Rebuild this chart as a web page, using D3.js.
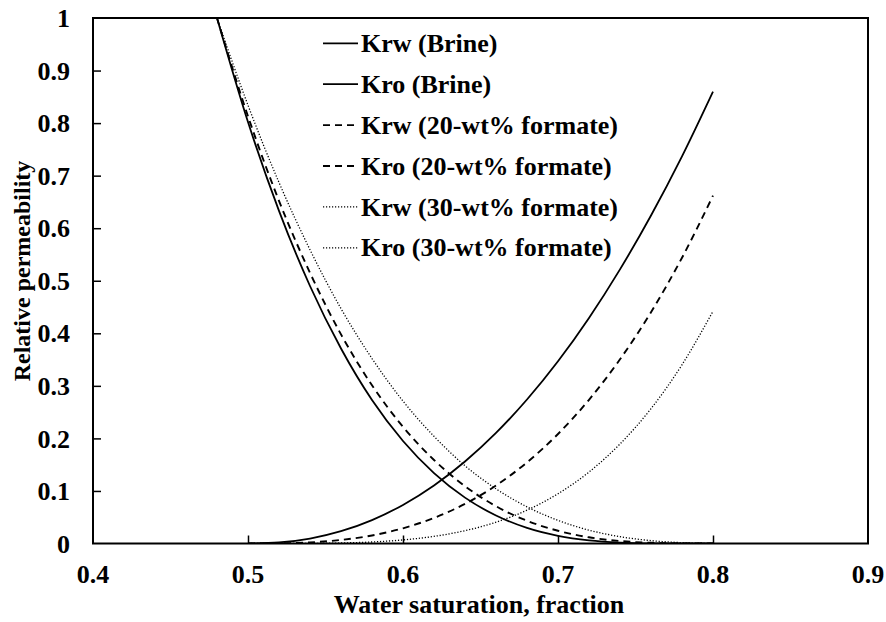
<!DOCTYPE html>
<html>
<head>
<meta charset="utf-8">
<script src="https://cdn.jsdelivr.net/npm/d3@7"></script>
<style>
  html, body { margin: 0; padding: 0; background: #fff; }
  svg text { font-family: "Liberation Serif", "Times New Roman", serif; font-weight: bold; fill: #000; }
</style>
</head>
<body>
<svg id="chart" width="886" height="622"></svg>
<script>
// ---- Data ----
const swKro = [0.48, 0.50, 0.52, 0.54, 0.56, 0.58, 0.60, 0.62, 0.64, 0.66, 0.68, 0.70, 0.72, 0.74, 0.76, 0.78, 0.80];
const kroBrine = [1.000, 0.802, 0.633, 0.490, 0.371, 0.273, 0.195, 0.134, 0.0873, 0.0533, 0.0297, 0.0146, 0.0058, 0.0016, 0.0002, 0, 0];
const kro20 = [1.000, 0.813, 0.652, 0.515, 0.398, 0.301, 0.222, 0.159, 0.109, 0.0710, 0.0433, 0.0242, 0.0118, 0.0047, 0.0013, 0.0001, 0];
const kro30 = [1.000, 0.834, 0.687, 0.559, 0.447, 0.352, 0.271, 0.204, 0.148, 0.104, 0.0698, 0.0440, 0.0254, 0.0130, 0.0055, 0.0016, 0.0002];

const swKrw = [0.50, 0.52, 0.54, 0.56, 0.58, 0.60, 0.62, 0.64, 0.66, 0.68, 0.70, 0.72, 0.74, 0.76, 0.78, 0.80];
const krwBrine = [0, 0.0020, 0.0094, 0.0234, 0.0446, 0.0734, 0.1104, 0.156, 0.2104, 0.274, 0.3468, 0.4293, 0.5217, 0.6242, 0.7368, 0.860];
const krw20 = [0, 0.0003, 0.0021, 0.0068, 0.0153, 0.0289, 0.0486, 0.0754, 0.1103, 0.1544, 0.2084, 0.2735, 0.3505, 0.4402, 0.5438, 0.662];
const krw30 = [0, 0.0000, 0.0002, 0.0010, 0.0029, 0.0068, 0.0136, 0.0244, 0.0405, 0.0634, 0.0947, 0.136, 0.1894, 0.2566, 0.3401, 0.442];

const xTicks = [0.4, 0.5, 0.6, 0.7, 0.8, 0.9];
const yTicks = [0, 0.1, 0.2, 0.3, 0.4, 0.5, 0.6, 0.7, 0.8, 0.9, 1];

const seriesNames = ["Krw (Brine)", "Kro (Brine)", "Krw (20-wt% formate)", "Kro (20-wt% formate)", "Krw (30-wt% formate)", "Kro (30-wt% formate)"];

// ---- Styles ----
const styles = {
  solid:  { width: 1.8, dash: null },
  dashed: { width: 1.9, dash: "7,5" },
  dotted: { width: 1.3, dash: "1.2,1.8" }
};

const series = [
  { name: seriesNames[0], x: swKrw, y: krwBrine, style: "solid" },
  { name: seriesNames[1], x: swKro, y: kroBrine, style: "solid" },
  { name: seriesNames[2], x: swKrw, y: krw20, style: "dashed" },
  { name: seriesNames[3], x: swKro, y: kro20, style: "dashed" },
  { name: seriesNames[4], x: swKrw, y: krw30, style: "dotted" },
  { name: seriesNames[5], x: swKro, y: kro30, style: "dotted" }
];

// ---- Layout ----
const mL = 93, mR = 868, mT = 18, mB = 543.5;
const svg = d3.select("#chart");

const x = d3.scaleLinear().domain([0.4, 0.9]).range([mL, mR]);
const y = d3.scaleLinear().domain([0, 1]).range([mB, mT]);

svg.append("defs").append("clipPath").attr("id", "plotclip")
  .append("rect").attr("x", mL).attr("y", mT).attr("width", mR - mL).attr("height", mB - mT);

// Curves
const line = d3.line().x(d => x(d[0])).y(d => y(d[1])).curve(d3.curveMonotoneX);
const plot = svg.append("g").attr("clip-path", "url(#plotclip)");
series.forEach(s => {
  const pts = s.x.map((v, i) => [v, s.y[i]]);
  const st = styles[s.style];
  plot.append("path")
    .attr("d", line(pts))
    .attr("fill", "none")
    .attr("stroke", "#000")
    .attr("stroke-width", st.width)
    .attr("stroke-dasharray", st.dash);
});

// Axes with inward ticks
const xAxis = d3.axisTop(x).tickValues(xTicks.slice(1, -1)).tickSize(8).tickFormat("");
svg.append("g").attr("transform", `translate(0,${mB})`).call(xAxis)
  .call(g => g.select(".domain").remove())
  .call(g => g.selectAll("line").attr("stroke", "#000").attr("stroke-width", 1.5));

const yAxis = d3.axisRight(y).tickValues(yTicks.slice(1, -1)).tickSize(8).tickFormat("");
svg.append("g").attr("transform", `translate(${mL},0)`).call(yAxis)
  .call(g => g.select(".domain").remove())
  .call(g => g.selectAll("line").attr("stroke", "#000").attr("stroke-width", 1.5));

// Frame
svg.append("rect").attr("x", mL).attr("y", mT).attr("width", mR - mL).attr("height", mB - mT)
  .attr("fill", "none").attr("stroke", "#000").attr("stroke-width", 2);

// Tick labels
const fmt = d => (d === 0 || d === 1) ? String(d) : d.toFixed(1);
svg.append("g").selectAll("text").data(xTicks).join("text")
  .attr("x", d => x(d)).attr("y", 583)
  .attr("text-anchor", "middle").attr("font-size", 26)
  .text(d => d.toFixed(1));

svg.append("g").selectAll("text").data(yTicks).join("text")
  .attr("x", 70).attr("y", d => y(d)).attr("dy", "0.35em")
  .attr("text-anchor", "end").attr("font-size", 26)
  .text(fmt);

// Axis titles
svg.append("text").attr("x", 479).attr("y", 613).attr("text-anchor", "middle")
  .attr("font-size", 26).text("Water saturation, fraction");
svg.append("text").attr("transform", "translate(30,271) rotate(-90)").attr("text-anchor", "middle")
  .attr("font-size", 24).text("Relative permeability");

// Legend
const legend = svg.append("g");
series.forEach((s, i) => {
  const cy = 43.3 + i * 40.9;
  const st = styles[s.style];
  legend.append("line").attr("x1", 323).attr("x2", 358).attr("y1", cy).attr("y2", cy)
    .attr("stroke", "#000").attr("stroke-width", st.width).attr("stroke-dasharray", st.dash);
  legend.append("text").attr("x", 361).attr("y", cy + 8.6).attr("font-size", 26).text(s.name);
});
</script>
</body>
</html>
